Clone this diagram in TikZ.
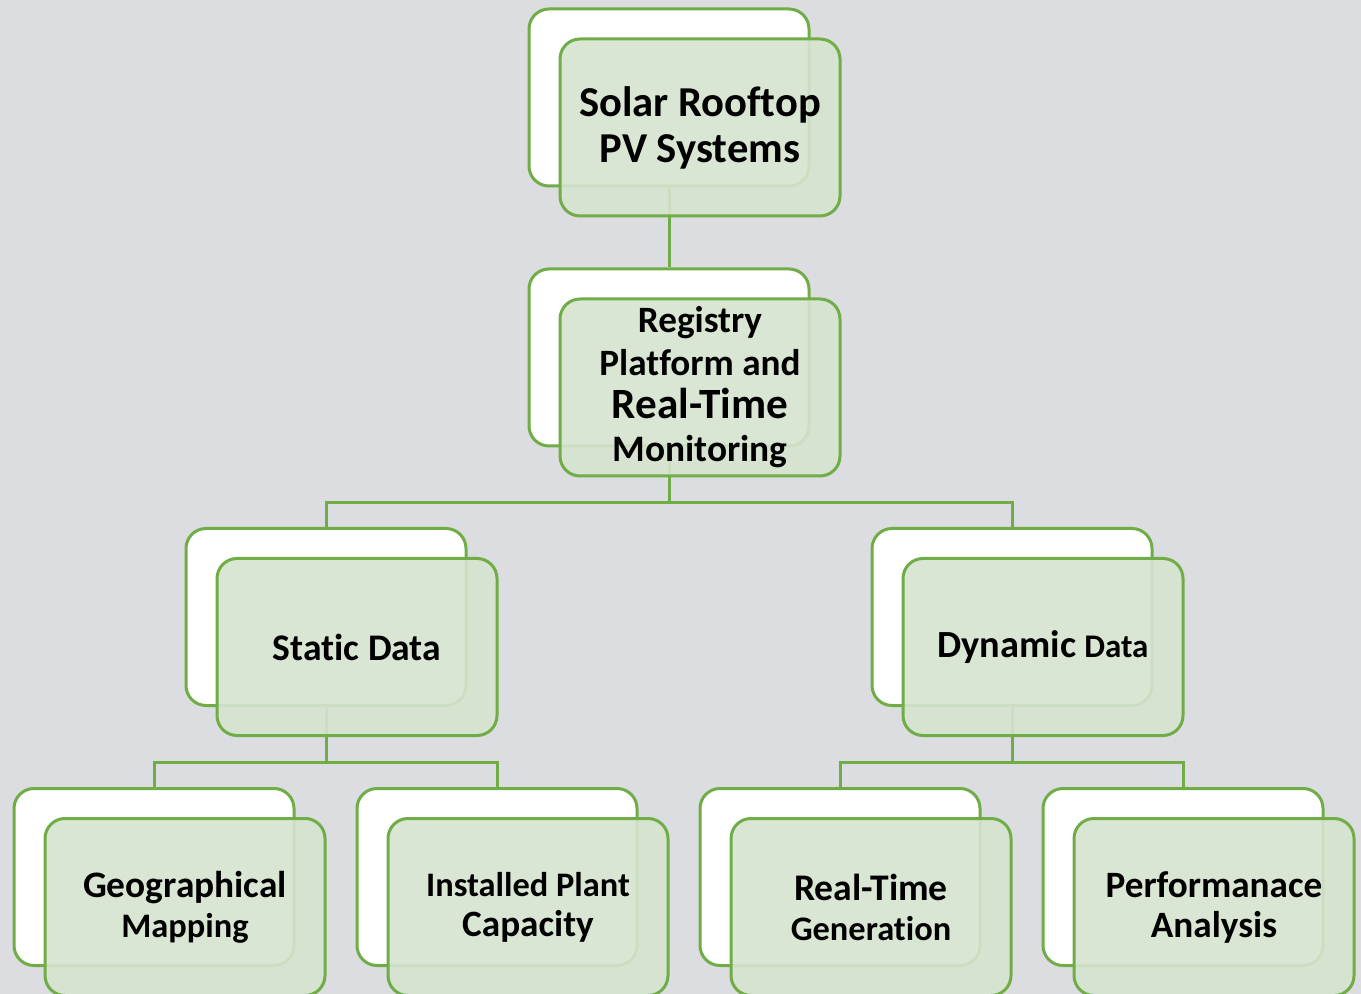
\documentclass[tikz,border=0pt]{standalone}
\usepackage{fontspec}
\setmainfont{Carlito}[Ligatures=NoCommon]
\usetikzlibrary{positioning}

\definecolor{bggray}{RGB}{220,221,224}
\definecolor{leafgreen}{RGB}{112,173,71}
\definecolor{palegreen}{RGB}{215,228,208}

\begin{document}
\begin{tikzpicture}[x=0.5pt,y=-0.5pt,font=\bfseries,
  backbox/.style={draw=leafgreen,line width=1.5pt,fill=white,
    rounded corners=10pt,minimum width=140pt,minimum height=88.5pt,
    inner sep=0pt},
  frontbox/.style={draw=leafgreen,line width=1.5pt,fill=palegreen,
    fill opacity=0.9,text opacity=1,rounded corners=10pt,
    minimum width=140pt,minimum height=88.5pt,inner sep=0pt,
    align=center},
  link/.style={draw=leafgreen,line width=1.5pt}]

% Figure parameters (in pixels of the original chart)
\def \dx{ 31 } % Shift of the front card to the right
\def \dy{ 30 } % Shift of the front card downwards
\def \drop{ 55 } % Length of the stem below a card

% Page and background
\useasboundingbox (0,0) rectangle (1361,994);
\fill[bggray] (0,0) rectangle (1361,994);

% The back cards (white) carry the tree
\node[backbox] (solarb)   at (669,97.5)  {};
\node[backbox] (registb)  at (669,357.5) {};
\node[backbox] (staticb)  at (326,617)   {};
\node[backbox] (dynamicb) at (1012,617)  {};
\node[backbox] (geob)     at (154,877)   {};
\node[backbox] (plantb)   at (497,877)   {};
\node[backbox] (genb)     at (840,877)   {};
\node[backbox] (perfb)    at (1183,877)  {};

% Connectors between the back cards
\draw[link] (solarb.south)   -- (registb.north);
\draw[link] (registb.south)  -- ++(0,\drop) -| (staticb.north);
\draw[link] (registb.south)  -- ++(0,\drop) -| (dynamicb.north);
\draw[link] (staticb.south)  -- ++(0,\drop) -| (geob.north);
\draw[link] (staticb.south)  -- ++(0,\drop) -| (plantb.north);
\draw[link] (dynamicb.south) -- ++(0,\drop) -| (genb.north);
\draw[link] (dynamicb.south) -- ++(0,\drop) -| (perfb.north);

% The front cards (pale green, see-through) with the texts
\node[frontbox,font=\fontsize{21.3}{23}\bfseries] (solar)
  at ([shift={(\dx,\dy)}]solarb) {Solar Rooftop\\PV Systems};
\node[frontbox,font=\fontsize{18.6}{21.5}\bfseries] (regist)
  at ([shift={(\dx,\dy)}]registb)
  {{\fontsize{18.6}{21.5}\selectfont Registry}\\
   {\fontsize{18.6}{21.5}\selectfont Platform and}\\
   {\fontsize{21.6}{21.5}\selectfont Real-Time}\\
   {\fontsize{18.7}{21.5}\selectfont Monitoring}};
\node[frontbox,font=\fontsize{18.8}{20}\bfseries] (static)
  at ([shift={(\dx,\dy)}]staticb) {Static Data};
\node[frontbox,font=\fontsize{18}{20}\bfseries] (dynamic)
  at ([shift={(\dx,\dy)}]dynamicb)
  {{\fontsize{19.2}{20}\selectfont Dynamic} {\fontsize{16.5}{20}\selectfont Data}};
\node[frontbox,font=\fontsize{18.7}{20}\bfseries] (geo)
  at ([shift={(\dx,\dy)}]geob)
  {Geographical\\{\fontsize{17.2}{20}\selectfont Mapping}};
\node[frontbox,font=\fontsize{17.2}{20}\bfseries] (plant)
  at ([shift={(\dx,\dy)}]plantb)
  {Installed Plant\\{\fontsize{18.6}{20}\selectfont Capacity}};
\node[frontbox,font=\fontsize{17.2}{20}\bfseries] (gen)
  at ([shift={(\dx,\dy)}]genb)
  {{\fontsize{18.8}{20}\selectfont Real-Time}\\Generation};
\node[frontbox,font=\fontsize{18.6}{20}\bfseries] (perf)
  at ([shift={(\dx,\dy)}]perfb) {Performanace\\Analysis};
\end{tikzpicture}
\end{document}
